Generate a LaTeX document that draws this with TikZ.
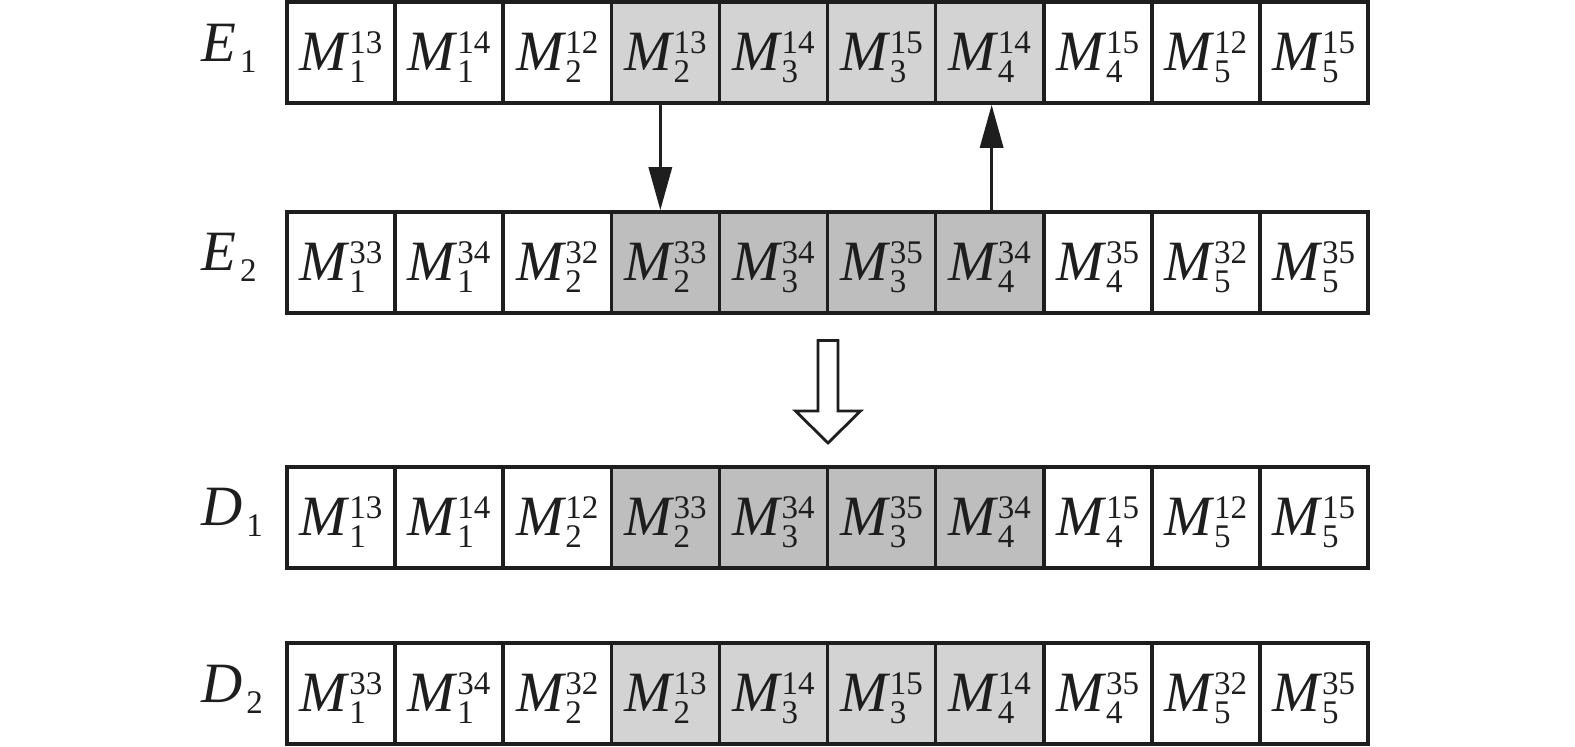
\documentclass[tikz,border=0pt]{standalone}
\usepackage{fontspec}
\setmainfont{Liberation Serif}
\usetikzlibrary{arrows.meta}
\definecolor{lightsh}{RGB}{211,211,211}
\definecolor{darksh}{RGB}{190,190,190}
\definecolor{ink}{RGB}{30,30,30}
\newcommand\MM[2]{{\fontsize{57}{57}\selectfont\itshape M}\kern2pt{\fontsize{33}{33}\selectfont\makebox[0pt][l]{\raisebox{-12pt}{#1}}\raisebox{17pt}{#2}}}
\newcommand\Lab[2]{{\fontsize{57}{57}\selectfont\itshape #1}\kern4pt{\fontsize{33}{33}\selectfont\raisebox{-11pt}{#2}}}
\tikzset{
  cell/.style={draw=ink, line width=3.6pt, rectangle, minimum width=108.1pt, minimum height=101pt, inner sep=0pt, text height=40pt, text depth=5pt, fill=white, text=ink},
  shL/.style={fill=lightsh},
  shD/.style={fill=darksh},
  plainc/.style={},
  rowlab/.style={anchor=base west, inner sep=0pt, text=ink},
  conn/.style={draw=ink, line width=3.2pt, -{Triangle[length=43pt,width=23pt]}},
  hollow/.style={draw=ink, line width=2.8pt, fill=white, line join=miter}
}
\begin{document}
\begin{tikzpicture}[x=1pt,y=-1pt]
\useasboundingbox (0,0) rectangle (1575,747);
% rows: name, top y, shade style, list
\foreach \rn/\ty/\shs/\lst in {
  e1/2/shL/{1/13,1/14,2/12,2/13,3/14,3/15,4/14,4/15,5/12,5/15},
  e2/212/shD/{1/33,1/34,2/32,2/33,3/34,3/35,4/34,4/35,5/32,5/35},
  d1/467/shD/{1/13,1/14,2/12,2/33,3/34,3/35,4/34,4/15,5/12,5/15},
  d2/643/shL/{1/33,1/34,2/32,2/13,3/14,3/15,4/14,4/35,5/32,5/35}}{
  \foreach \b/\p [count=\i] in \lst {
    \ifnum\i>3 \ifnum\i<8 \def\st{\shs}\else\def\st{plainc}\fi\else\def\st{plainc}\fi
    \node[cell,\st] (\rn c\i) at ({287+(\i-0.5)*108.1},{\ty+50.5}) {\MM{\b}{\p}};
  }
}
\node[rowlab] (le1) at (201,61) {\Lab{E}{1}};
\node[rowlab] (le2) at (201,270) {\Lab{E}{2}};
\node[rowlab] (ld1) at (201,525) {\Lab{D}{1}};
\node[rowlab] (ld2) at (201,702) {\Lab{D}{2}};
\draw[conn] ([xshift=-5pt]e1c4.south) -- ([xshift=-5pt]e2c4.north);
\draw[conn] ([xshift=2pt]e2c7.north) -- ([xshift=2pt]e1c7.south);
% hollow block arrow between E2 and D1
\draw[hollow] (818,340.5) -- (838,340.5) -- (838,411) -- (860.5,411) -- (828,443) -- (795.5,411) -- (818,411) -- cycle;
\end{tikzpicture}
\end{document}
